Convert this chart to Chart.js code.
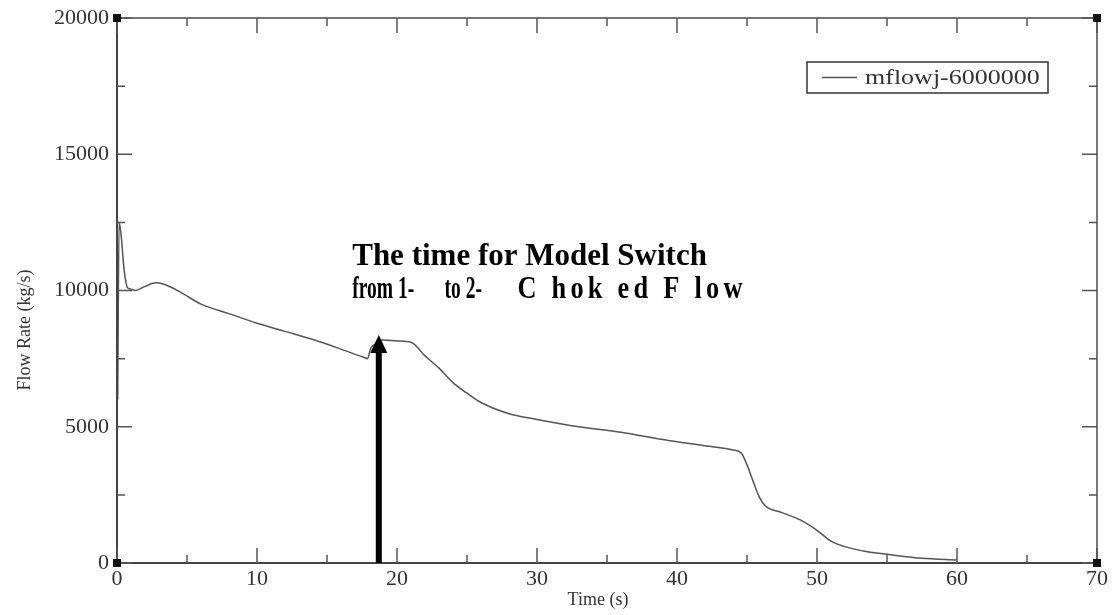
<!DOCTYPE html>
<html>
<head>
<meta charset="utf-8">
<script src="https://cdn.jsdelivr.net/npm/chart.js@4.4.1/dist/chart.umd.min.js"></script>
<style>
html, body { margin: 0; padding: 0; background: #fff; }
</style>
</head>
<body>
<canvas id="chart" width="1113" height="615"></canvas>
<script>
// data
const timeS = [0.05, 0.15, 0.3, 0.5, 0.75, 1.0, 1.3, 2.0, 2.8, 3.5, 4.5, 6.0, 8.0, 10.0, 12.0, 14.0, 16.0, 17.6, 17.9,
  18.1, 18.5, 19.0, 20.0, 21.0, 22.0, 23.0, 24.0, 25.0, 26.0, 28.0, 30.0, 33.0, 36.0, 39.0, 42.0, 44.0, 44.6,
  45.0, 45.4, 45.9, 46.3, 47.5, 48.8, 50.0, 51.0, 52.0, 53.5, 55.0, 57.5, 60.0];
const flowRate = [6000, 12500, 12000, 10800, 10100, 10050, 10000, 10150, 10280, 10200, 9950, 9500, 9150, 8800,
  8500, 8200, 7850, 7550, 7500, 7850, 8050, 8180, 8150, 8100, 7600, 7150, 6620, 6230, 5890, 5480, 5270, 5000,
  4800, 4530, 4300, 4150, 4030, 3600, 3050, 2400, 2100, 1850, 1580, 1200, 800, 600, 420, 320, 170, 110];
const seriesLabel = 'mflowj-6000000';
const xTitle = 'Time (s)';
const yTitle = 'Flow Rate (kg/s)';

// annotation: arrow at the model switch time
const arrowTime = 18.7;
const arrowTip = 8370;
const noteLine1 = 'The time for Model Switch';
const noteLine2 = ['from 1-', 'to 2-', 'C hok ed F low'];
const noteLine2At = [16.8, 23.4, 28.6];
const noteAt = 16.8;
const noteY1 = 10930, noteY2 = 9720;

const serif = '"Liberation Serif", "Times New Roman", serif';
Chart.defaults.font.family = serif;
Chart.defaults.color = '#333';

const decor = {
  id: 'decor',
  afterDatasetsDraw(chart) {
    const { ctx, chartArea: a, scales: { x, y } } = chart;
    ctx.save();
    ctx.lineWidth = 2;
    ctx.strokeStyle = '#777';
    ctx.strokeRect(a.left, a.top, a.right - a.left, a.bottom - a.top);
    ctx.strokeStyle = '#444';
    ctx.beginPath();
    ctx.moveTo(a.left, a.top); ctx.lineTo(a.left, a.bottom); ctx.lineTo(a.right, a.bottom);
    ctx.stroke();

    // inward ticks on all four sides
    ctx.strokeStyle = '#555';
    ctx.lineWidth = 1.5;
    ctx.beginPath();
    x.ticks.forEach(t => {
      const px = x.getPixelForValue(t.value);
      const len = t.value % 10 === 0 ? 15 : 8;
      ctx.moveTo(px, a.bottom); ctx.lineTo(px, a.bottom - len);
      ctx.moveTo(px, a.top); ctx.lineTo(px, a.top + len);
    });
    y.ticks.forEach(t => {
      const py = y.getPixelForValue(t.value);
      const len = t.value % 5000 === 0 ? 15 : 8;
      ctx.moveTo(a.left, py); ctx.lineTo(a.left + len, py);
      ctx.moveTo(a.right, py); ctx.lineTo(a.right - len, py);
    });
    ctx.stroke();

    // corner squares
    ctx.fillStyle = '#111';
    [[a.left, a.top], [a.right, a.top], [a.left, a.bottom], [a.right, a.bottom]].forEach(([cx, cy]) => {
      ctx.fillRect(cx - 4, cy - 4, 8, 8);
    });

    // arrow
    const ax = x.getPixelForValue(arrowTime);
    const tipY = y.getPixelForValue(arrowTip);
    const baseY = y.getPixelForValue(0);
    ctx.fillStyle = '#000';
    ctx.fillRect(ax - 3, tipY + 17, 6, baseY - tipY - 17);
    ctx.beginPath();
    ctx.moveTo(ax, tipY);
    ctx.lineTo(ax - 8.5, tipY + 18);
    ctx.lineTo(ax + 8.5, tipY + 18);
    ctx.closePath();
    ctx.fill();

    // annotation text
    ctx.fillStyle = '#000';
    ctx.textBaseline = 'alphabetic';
    ctx.font = 'bold 31px ' + serif;
    ctx.fillText(noteLine1, x.getPixelForValue(noteAt), y.getPixelForValue(noteY1));
    noteLine2.forEach((s, i) => {
      const px = x.getPixelForValue(noteLine2At[i]);
      const py = y.getPixelForValue(noteY2);
      ctx.save();
      ctx.translate(px, py);
      ctx.scale(i === 2 ? 0.85 : 0.63, 1);
      if (i === 2) ctx.letterSpacing = '5px';
      ctx.fillText(s, 0, 0);
      ctx.restore();
    });

    // legend box
    const lx = 807, ly = 62, lw = 241, lh = 31;
    ctx.strokeStyle = '#333';
    ctx.lineWidth = 1.5;
    ctx.fillStyle = '#fff';
    ctx.fillRect(lx, ly, lw, lh);
    ctx.strokeRect(lx, ly, lw, lh);
    ctx.strokeStyle = chart.data.datasets[0].borderColor;
    ctx.beginPath();
    ctx.moveTo(lx + 15, ly + lh / 2); ctx.lineTo(lx + 50, ly + lh / 2);
    ctx.stroke();
    ctx.fillStyle = '#333';
    ctx.textBaseline = 'middle';
    ctx.save();
    ctx.translate(lx + 58, ly + lh / 2 + 1);
    ctx.scale(1.3, 1);
    ctx.font = '20px ' + serif;
    ctx.fillText(chart.data.datasets[0].label, 0, 0);
    ctx.restore();

    // axis titles
    ctx.font = '18px ' + serif;
    ctx.textAlign = 'center';
    ctx.fillText(xTitle, 598, 600);
    ctx.save();
    ctx.translate(25, 330);
    ctx.rotate(-Math.PI / 2);
    ctx.fillText(yTitle, 0, 0);
    ctx.restore();
    ctx.restore();
  }
};

new Chart(document.getElementById('chart'), {
  type: 'line',
  data: {
    datasets: [{
      label: seriesLabel,
      data: timeS.map((t, i) => ({ x: t, y: flowRate[i] })),
      borderColor: '#555',
      borderWidth: 1.5,
      pointRadius: 0,
      cubicInterpolationMode: 'monotone',
      fill: false
    }]
  },
  options: {
    responsive: false,
    animation: false,
    devicePixelRatio: 1,
    layout: { autoPadding: false, padding: { top: 18, right: 16, left: 0, bottom: 0 } },
    plugins: { legend: { display: false }, tooltip: { enabled: false } },
    scales: {
      x: {
        type: 'linear', min: 0, max: 70,
        grid: { display: false, drawTicks: false },
        border: { display: false },
        ticks: {
          stepSize: 5, padding: 3, maxRotation: 0, autoSkip: false,
          font: { size: 22 }, color: '#333',
          callback: v => (v % 10 === 0 ? v : '')
        },
        afterFit: s => { s.height = 52; s.paddingLeft = 0; s.paddingRight = 0; }
      },
      y: {
        min: 0, max: 20000,
        grid: { display: false, drawTicks: false },
        border: { display: false },
        ticks: {
          stepSize: 2500, padding: 8, autoSkip: false,
          font: { size: 22 }, color: '#333',
          callback: v => (v % 5000 === 0 ? v : '')
        },
        afterFit: s => { s.width = 117; s.paddingTop = 0; s.paddingBottom = 0; }
      }
    }
  },
  plugins: [decor]
});
</script>
</body>
</html>
